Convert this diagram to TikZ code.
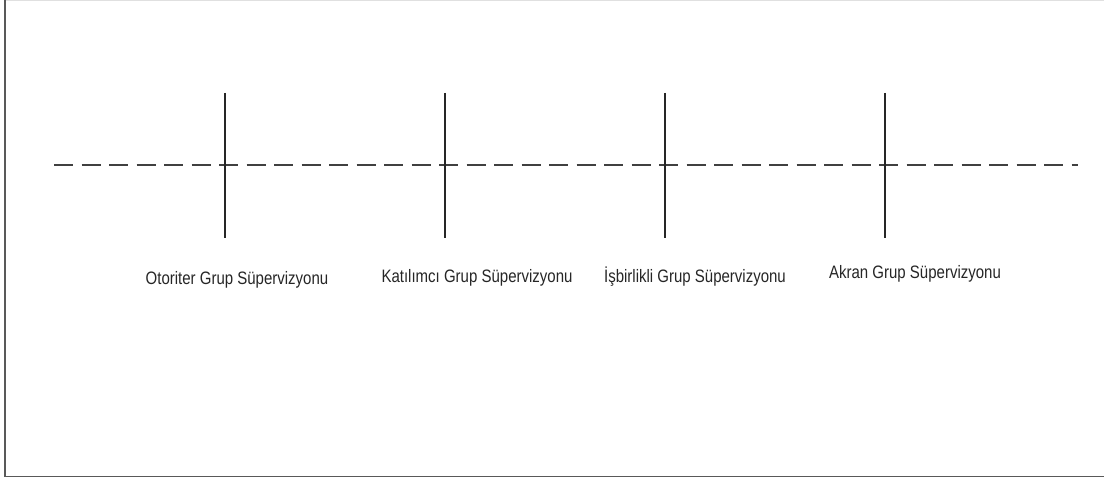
\documentclass[tikz,border=0pt]{standalone}
\usepackage{fontspec}
\setmainfont{Liberation Sans}
\newcommand{\tallText}[1]{\scalebox{1}[1.2]{#1}}
\begin{document}
\begin{tikzpicture}[x=1pt,y=-1pt,
  tick/.style={line width=1.5pt,black!85},
  axisline/.style={line width=1.6pt,black!75,dash pattern=on 19pt off 8.5pt},
  lbl/.style={font=\fontsize{15}{18}\selectfont,inner sep=0pt,text=black!85},
  frameline/.style={line width=1.8pt,black!65}]
\useasboundingbox (0,0) rectangle (1104,481);
\fill[white] (0,0) rectangle (1104,481);
% frame
\draw[line width=1.2pt,black!12] (5,0.5) -- (1104,0.5);
\draw[frameline] (5,0) -- (5,476.5) -- (1104,476.5);
% dashed axis
\coordinate (L) at (54,165);
\coordinate (R) at (1078,165);
\draw[axisline] (L) -- (R);
% ticks
\foreach \n/\x in {a/225,b/445,c/665,d/885}{
  \coordinate (\n top) at (\x,93);
  \coordinate (\n bot) at (\x,238);
  \draw[tick] (\n top) -- (\n bot);
}
% labels
\node[lbl] (la) at (237,280) {\tallText{Otoriter Grup Süpervizyonu}};
\node[lbl] (lb) at (477,278) {\tallText{Katılımcı Grup Süpervizyonu}};
\node[lbl] (lc) at (695,277) {\tallText{İşbirlikli Grup Süpervizyonu}};
\node[lbl] (ld) at (915,274) {\tallText{Akran Grup Süpervizyonu}};
\end{tikzpicture}
\end{document}
